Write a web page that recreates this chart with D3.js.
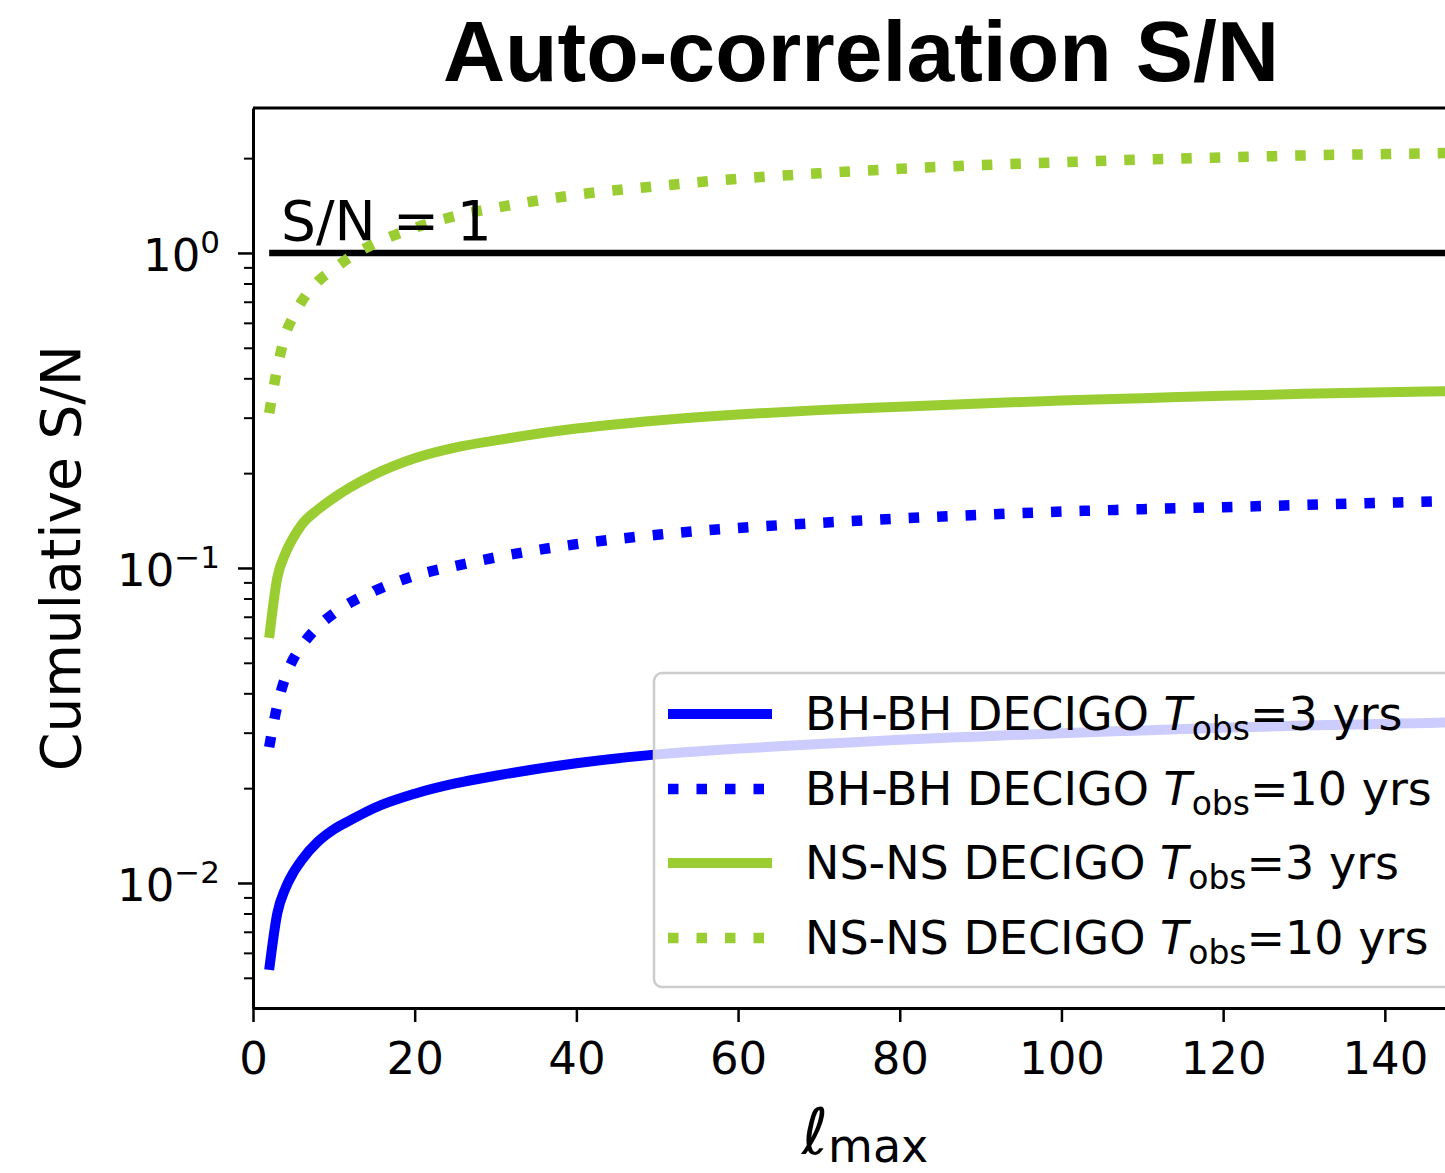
<!DOCTYPE html>
<html>
<head>
<meta charset="utf-8">
<script src="https://cdn.jsdelivr.net/npm/d3@7"></script>
<style>
  body { margin: 0; background: #fff; }
  svg { display: block; }
</style>
</head>
<body>
<div id="chart"></div>
<script>
// multipole cutoff
var ell = [2, 3, 4, 5, 6, 8, 10, 12, 15, 20, 25, 30, 40, 50, 60, 70, 80, 90, 100, 110, 120, 130, 140, 150];

// cumulative S/N
var bh3  = [0.0053, 0.0080, 0.0096, 0.0108, 0.0118, 0.0135, 0.0148, 0.0158, 0.0173, 0.0192, 0.0207, 0.0219,
            0.0240, 0.0256, 0.0267, 0.0276, 0.0285, 0.0292, 0.0299, 0.0305, 0.0311, 0.0316, 0.0320, 0.0324];
var bh10 = [0.0270, 0.0365, 0.0450, 0.0515, 0.0565, 0.0650, 0.0718, 0.0775, 0.0845, 0.0945, 0.1015, 0.1080,
            0.1190, 0.1275, 0.1340, 0.1390, 0.1435, 0.1475, 0.1510, 0.1537, 0.1560, 0.1585, 0.1610, 0.1635];
var ns3  = [0.060, 0.093, 0.111, 0.125, 0.137, 0.153, 0.167, 0.180, 0.198, 0.223, 0.241, 0.254,
            0.277, 0.294, 0.307, 0.317, 0.325, 0.333, 0.340, 0.346, 0.352, 0.357, 0.361, 0.365];
var ns10 = [0.31, 0.43, 0.55, 0.63, 0.70, 0.81, 0.89, 0.97, 1.07, 1.20, 1.31, 1.39,
            1.53, 1.63, 1.72, 1.79, 1.85, 1.90, 1.94, 1.98, 2.01, 2.04, 2.06, 2.08];

var xTicks = [0, 20, 40, 60, 80, 100, 120, 140];
var yTicks = [0.01, 0.1, 1];
var yTickExp = ["\u22122", "\u22121", "0"];
var yMinor = [0.005, 0.006, 0.007, 0.008, 0.009, 0.02, 0.03, 0.04, 0.05, 0.06, 0.07, 0.08, 0.09,
              0.2, 0.3, 0.4, 0.5, 0.6, 0.7, 0.8, 0.9, 2];

var seriesNames = ["BH-BH DECIGO ", "BH-BH DECIGO ", "NS-NS DECIGO ", "NS-NS DECIGO "];
var seriesYrs = ["=3 yrs", "=10 yrs", "=3 yrs", "=10 yrs"];
var seriesColors = ["#0000ff", "#0000ff", "#9acd32", "#9acd32"];
var seriesDotted = [false, true, false, true];
var seriesData = [bh3, bh10, ns3, ns10];

var W = 1445, H = 1173;
var L = 253, T = 108, R = 1477, B = 1008;
var font = "'DejaVu Sans', sans-serif";

var svg = d3.select("#chart").append("svg")
	.attr("width", W)
	.attr("height", H);

var x = d3.scaleLinear().domain([0, 151.4]).range([L, R]);
var y = d3.scaleLog().domain([0.00401, 2.885]).range([B, T]);

svg.append("defs").append("clipPath")
	.attr("id", "plotclip")
	.append("rect")
		.attr("x", L).attr("y", T)
		.attr("width", R - L).attr("height", B - T);

// title
svg.append("text")
	.attr("x", (L + R) / 2 - 4)
	.attr("y", 81)
	.attr("text-anchor", "middle")
	.style("font-family", "'Liberation Sans', Arial, sans-serif")
	.style("font-weight", "bold")
	.style("font-size", "86px")
	.text("Auto-correlation S/N");

var plot = svg.append("g").attr("clip-path", "url(#plotclip)");

// S/N = 1 reference line
plot.append("line")
	.attr("x1", x(2)).attr("x2", x(151.4))
	.attr("y1", y(1)).attr("y2", y(1))
	.attr("stroke", "#000")
	.attr("stroke-width", 6.5);

var line = d3.line()
	.x(function(d) { return x(d[0]); })
	.y(function(d) { return y(d[1]); })
	.curve(d3.curveMonotoneX);

seriesData.forEach(function(vals, i) {
	plot.append("path")
		.datum(ell.map(function(l, j) { return [l, vals[j]]; }))
		.attr("d", line)
		.attr("fill", "none")
		.attr("stroke", seriesColors[i])
		.attr("stroke-width", seriesDotted[i] ? 10.5 : 10)
		.attr("stroke-dasharray", seriesDotted[i] ? "10.5 18" : null)
		.attr("stroke-linecap", "butt")
		.attr("stroke-linejoin", "round");
});

svg.append("text")
	.attr("x", 281)
	.attr("y", 240)
	.style("font-family", font)
	.style("font-size", "55px")
	.text("S/N = 1");

// axes
var xAxis = svg.append("g")
	.attr("transform", "translate(0," + B + ")")
	.call(d3.axisBottom(x).tickValues(xTicks).tickSize(14).tickPadding(20).tickSizeOuter(0));
xAxis.select(".domain").attr("stroke-width", 3);
xAxis.selectAll(".tick line").attr("stroke-width", 2.5);
xAxis.selectAll(".tick text")
	.style("font-family", font)
	.style("font-size", "45px")
	.attr("fill", "#000");

var yAxis = svg.append("g")
	.attr("transform", "translate(" + L + ",0)")
	.call(d3.axisLeft(y).tickValues(yTicks).tickSize(15).tickFormat("").tickSizeOuter(0));
yAxis.select(".domain").attr("stroke-width", 3);
yAxis.selectAll(".tick line").attr("stroke-width", 2.5);

var yAxisMinor = svg.append("g")
	.attr("transform", "translate(" + L + ",0)")
	.call(d3.axisLeft(y).tickValues(yMinor).tickSize(9).tickFormat("").tickSizeOuter(0));
yAxisMinor.select(".domain").remove();
yAxisMinor.selectAll(".tick line").attr("stroke-width", 2);

// top spine
svg.append("line")
	.attr("x1", L).attr("x2", R)
	.attr("y1", T).attr("y2", T)
	.attr("stroke", "#000")
	.attr("stroke-width", 3);

var ylab = svg.append("g").selectAll("text")
	.data(yTicks)
	.enter().append("text")
		.attr("x", 220)
		.attr("y", function(d) { return y(d) + 18; })
		.attr("text-anchor", "end")
		.style("font-family", font)
		.style("font-size", "45px");
ylab.append("tspan").text("10");
ylab.append("tspan")
	.attr("dy", -18)
	.style("font-size", "31px")
	.text(function(d, i) { return yTickExp[i]; });

// axis labels
svg.append("text")
	.attr("transform", "translate(80," + ((T + B) / 2) + ") rotate(-90)")
	.attr("text-anchor", "middle")
	.style("font-family", font)
	.style("font-size", "55px")
	.text("Cumulative S/N");

var xl = svg.append("text")
	.attr("x", (L + R) / 2)
	.attr("y", 1154)
	.attr("text-anchor", "middle")
	.style("font-family", font)
	.style("font-size", "64px");
xl.append("tspan").style("font-style", "italic").text("\u2113");
xl.append("tspan").attr("dy", 8).style("font-size", "46px").text("max");

// legend
var leg = svg.append("g");
leg.append("rect")
	.attr("x", 654).attr("y", 673)
	.attr("width", 820).attr("height", 314)
	.attr("rx", 8)
	.attr("fill", "#fff")
	.attr("fill-opacity", 0.8)
	.attr("stroke", "#cccccc")
	.attr("stroke-width", 2.5);

var rowY = [714, 789, 863, 938];
seriesNames.forEach(function(name, i) {
	leg.append("line")
		.attr("x1", 668).attr("x2", 772)
		.attr("y1", rowY[i]).attr("y2", rowY[i])
		.attr("stroke", seriesColors[i])
		.attr("stroke-width", seriesDotted[i] ? 10.5 : 10)
		.attr("stroke-dasharray", seriesDotted[i] ? "10.5 18" : null);
	var t = leg.append("text")
		.attr("x", 805)
		.attr("y", rowY[i] + 16)
		.style("font-family", font)
		.style("font-size", "46px");
	t.append("tspan").text(name);
	t.append("tspan").style("font-style", "italic").text("T");
	t.append("tspan").attr("dy", 10).style("font-size", "33px").text("obs");
	t.append("tspan").attr("dy", -10).text(seriesYrs[i]);
});
</script>
</body>
</html>
